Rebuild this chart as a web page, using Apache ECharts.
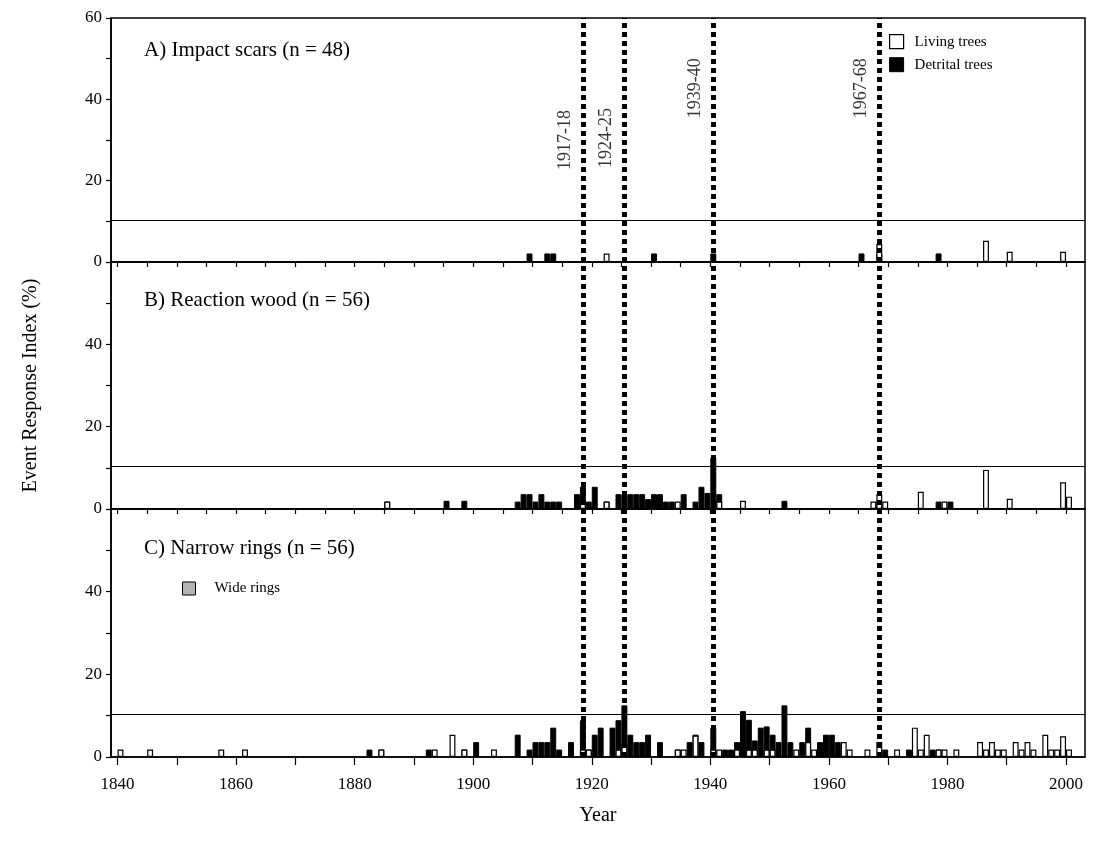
<!DOCTYPE html>
<html>
<head>
<meta charset="utf-8">
<title>Event Response Index</title>
<script src="https://cdn.jsdelivr.net/npm/echarts@6/dist/echarts.min.js"></script>
<style>
html, body { margin: 0; padding: 0; background: #fff; }
#main { width: 1093px; height: 851px; }
</style>
</head>
<body>
<div id="main"></div>
<script>
// A) Impact scars (n = 48)
var aYears    = [1909, 1912, 1913, 1922, 1930, 1940, 1965, 1968, 1978, 1986, 1990, 1999];
var aDetrital = [2.1, 2.1, 2.1, 0, 2.1, 2.1, 2.1, 2.1, 2.1, 0, 0, 0];
var aLiving   = [0, 0, 0, 2.1, 0, 0, 0, 4.4, 0, 5.2, 2.5, 2.5];

// B) Reaction wood (n = 56)
var bYears    = [1885, 1895, 1898, 1907, 1908, 1909, 1910, 1911, 1912, 1913, 1914, 1917, 1918, 1919, 1920, 1922,
                 1924, 1925, 1926, 1927, 1928, 1929, 1930, 1931, 1932, 1933, 1934, 1935, 1937, 1938, 1939, 1940,
                 1941, 1945, 1952, 1967, 1968, 1969, 1975, 1978, 1979, 1980, 1986, 1990, 1999, 2000];
var bDetrital = [1.8, 2, 2, 1.8, 3.6, 3.6, 1.8, 3.6, 1.8, 1.8, 1.8, 3.6, 5.4, 1.8, 5.4, 1.8,
                 3.6, 3.6, 3.6, 3.6, 3.6, 2.4, 3.6, 3.6, 1.8, 1.8, 0, 3.6, 1.8, 5.4, 3.9, 12.5,
                 3.6, 0, 2, 0, 1.8, 0, 0, 1.8, 0, 1.8, 0, 0, 0, 0];
var bLiving   = [1.8, 0, 0, 0, 0, 0, 0, 0, 0, 0, 0, 0, 1.8, 0, 0, 1.8,
                 0, 0, 0, 0, 0, 0, 0, 0, 0, 0, 1.8, 0, 0, 0, 0, 0,
                 1.8, 2, 0, 1.8, 3.6, 1.8, 4.2, 0, 1.8, 0, 9.5, 2.5, 6.5, 3];

// C) Narrow rings (n = 56)
var cYears    = [1840, 1845, 1857, 1861, 1882, 1884, 1892, 1893, 1896, 1898, 1900, 1903, 1907, 1909, 1910, 1911,
                 1912, 1913, 1914, 1916, 1918, 1919, 1920, 1921, 1923, 1924, 1925, 1926, 1927, 1928, 1929, 1931,
                 1934, 1935, 1936, 1937, 1938, 1940, 1941, 1942, 1943, 1944, 1945, 1946, 1947, 1948, 1949, 1950,
                 1951, 1952, 1953, 1954, 1955, 1956, 1957, 1958, 1959, 1960, 1961, 1962, 1963, 1966, 1968, 1969,
                 1971, 1973, 1974, 1975, 1976, 1977, 1978, 1979, 1981, 1985, 1986, 1987, 1988, 1989, 1991, 1992,
                 1993, 1994, 1996, 1997, 1998, 1999, 2000];
var cDetrital = [0, 0, 0, 0, 1.8, 1.8, 1.8, 0, 0, 1.8, 3.6, 0, 5.4, 1.8, 3.6, 3.6,
                 3.6, 7.1, 1.8, 3.6, 8.9, 1.8, 5.4, 7.1, 7.1, 8.9, 12.5, 5.4, 3.6, 3.6, 5.4, 3.6,
                 1.8, 0, 3.6, 5.4, 3.6, 7.1, 0, 1.8, 1.8, 3.6, 11.1, 9, 4, 7.1, 7.4, 5.4,
                 3.6, 12.5, 3.6, 0, 3.6, 7.1, 0, 3.6, 5.4, 5.4, 3.6, 0, 0, 0, 0, 1.8,
                 0, 1.8, 0, 0, 0, 1.8, 1.8, 0, 0, 0, 0, 0, 0, 0, 0, 0,
                 0, 0, 0, 0, 0, 0, 0];
var cWide     = [0, 0, 0, 0, 0, 0, 0, 0, 0, 0, 0, 0, 0, 0, 0, 0,
                 0, 0, 0, 0, 0, 0, 0, 0, 0, 0, 0, 0, 0, 0, 0, 0,
                 0, 0, 0, 0, 0, 1.8, 0, 0, 0, 0, 0, 0, 0, 0, 0, 0,
                 0, 0, 0, 0, 0, 0, 0, 0, 0, 0, 0, 0, 0, 0, 0, 0,
                 0, 0, 0, 0, 0, 0, 0, 0, 0, 0, 0, 0, 0, 0, 0, 0,
                 0, 0, 0, 0, 0, 0, 0];
var cLiving   = [1.8, 1.8, 1.8, 1.8, 0, 1.8, 0, 1.8, 5.4, 1.8, 0, 1.8, 0, 0, 0, 0,
                 0, 0, 0, 0, 1.8, 1.8, 0, 0, 0, 1.8, 3.2, 0, 0, 0, 0, 0,
                 1.8, 1.8, 0, 5.2, 0, 1.8, 1.8, 0, 0, 1.8, 0, 1.8, 1.8, 0, 1.8, 1.8,
                 0, 0, 0, 1.8, 0, 3.6, 1.8, 0, 0, 0, 0, 3.6, 1.8, 1.8, 3.6, 0,
                 1.8, 0, 7.1, 1.8, 5.4, 0, 1.8, 1.8, 1.8, 3.6, 1.8, 3.6, 1.8, 1.8, 3.6, 1.8,
                 3.6, 1.8, 5.4, 1.8, 1.8, 5, 1.8];

// threshold line of each panel
var thresholds = [10.2, 10.3, 10.3];

// dotted event lines
var eventNames = ['1917-18', '1924-25', '1939-40', '1967-68'];
var eventYears = [1918, 1925, 1940, 1968];

// axis labels
var xLabels = [1840, 1860, 1880, 1900, 1920, 1940, 1960, 1980, 2000];
var yLabels = [0, 20, 40];

var panelTitles = ['A) Impact scars (n = 48)', 'B) Reaction wood (n = 56)', 'C) Narrow rings (n = 56)'];

var serif = 'Liberation Serif';
var xMin = 1838.9, xMax = 2003.2;
var plotLeft = 111, plotRight = 8;
var barW = (1093 - plotLeft - plotRight) / (xMax - xMin);

var grids = [
	{ left: plotLeft, right: plotRight, top: 18, height: 244 },
	{ left: plotLeft, right: plotRight, top: 262, height: 247 },
	{ left: plotLeft, right: plotRight, top: 509, height: 248 },
	{ left: plotLeft, right: plotRight, top: 18, height: 739 }
];
for (var g = 0; g < 3; g++) {
	grids[g].show = true;
	grids[g].borderColor = '#000';
	grids[g].borderWidth = 1.5;
}

// bar for year Y covers Y..Y+1
function pairs(years, vals) {
	var d = [];
	for (var i = 0; i < years.length; i++) {
		d.push([years[i] + 0.5, vals[i] ? vals[i] : '-']);
	}
	return d;
}

var ticks5 = [], ticks10 = [];
for (var y = 1840; y <= 2000; y += 5) {
	ticks5.push(y);
	if (y % 10 == 0) ticks10.push(y);
}

function xAxisFor(idx, tickVals, showLabels) {
	return {
		type: 'value', gridIndex: idx, min: xMin, max: xMax,
		splitLine: { show: false },
		axisLine: { show: true, onZero: false, lineStyle: { color: '#000', width: 1.5 } },
		axisTick: { show: true, length: showLabels ? 8 : 5, customValues: tickVals, lineStyle: { color: '#000', width: 1.2 } },
		axisLabel: {
			show: showLabels, customValues: xLabels, margin: 19,
			fontFamily: serif, fontSize: 17, color: '#000',
			formatter: function (v) { return String(v); }
		},
		name: showLabels ? 'Year' : '', nameLocation: 'middle', nameGap: 49,
		nameTextStyle: { fontFamily: serif, fontSize: 20, color: '#000' }
	};
}

function yAxisFor(idx, labels, name) {
	return {
		type: 'value', gridIndex: idx, min: 0, max: 60, interval: 10,
		splitLine: { show: false },
		axisLine: { show: true, lineStyle: { color: '#000', width: 1.5 } },
		axisTick: { show: true, length: 5, lineStyle: { color: '#000', width: 1.2 } },
		axisLabel: {
			margin: 9, fontFamily: serif, fontSize: 17, color: '#000',
			formatter: function (v) { return labels.indexOf(v) >= 0 ? String(v) : ''; }
		},
		name: name, nameLocation: 'middle', nameGap: 70,
		nameTextStyle: { fontFamily: serif, fontSize: 20, color: '#000' }
	};
}

var livingStyle = { color: '#fff', borderColor: '#000', borderWidth: 1.2 };
var detritalStyle = { color: '#000', borderColor: '#000', borderWidth: 1 };
var wideStyle = { color: '#b4b4b4', borderColor: '#000', borderWidth: 1 };

function barSeries(name, idx, data, style) {
	return {
		name: name, type: 'bar', xAxisIndex: idx, yAxisIndex: idx,
		stack: 'p' + idx, barWidth: barW, data: data,
		itemStyle: style, emphasis: { disabled: true }, animation: false
	};
}

function threshold(idx) {
	return {
		silent: true, symbol: 'none', label: { show: false },
		lineStyle: { color: '#000', width: 1, type: 'solid' },
		data: [{ yAxis: thresholds[idx] }]
	};
}

var series = [];
var sA = barSeries('Detrital trees', 0, pairs(aYears, aDetrital), detritalStyle);
sA.markLine = threshold(0);
series.push(sA, barSeries('Living trees', 0, pairs(aYears, aLiving), livingStyle));

var sB = barSeries('Detrital trees', 1, pairs(bYears, bDetrital), detritalStyle);
sB.markLine = threshold(1);
series.push(sB, barSeries('Living trees', 1, pairs(bYears, bLiving), livingStyle));

var sC = barSeries('Detrital trees', 2, pairs(cYears, cDetrital), detritalStyle);
sC.markLine = threshold(2);
series.push(sC,
	barSeries('Wide rings', 2, pairs(cYears, cWide), wideStyle),
	barSeries('Living trees', 2, pairs(cYears, cLiving), livingStyle));

// dotted event lines across all three panels
series.push({
	type: 'line', xAxisIndex: 3, yAxisIndex: 3, data: [], silent: true,
	markLine: {
		silent: true, symbol: 'none', label: { show: false }, animation: false,
		lineStyle: { color: '#000', width: 5, type: [5, 4] },
		data: eventYears.map(function (y) { return { xAxis: y + 0.5 }; })
	}
});

// event labels, rotated, left of each line
var labelLift = [30, 30.5, 42.7, 42.7];
series.push({
	type: 'scatter', xAxisIndex: 0, yAxisIndex: 0, symbolSize: 1, silent: true,
	itemStyle: { color: 'rgba(0,0,0,0)' },
	data: eventYears.map(function (y, i) { return [y + 0.5 - 3, labelLift[i]]; }),
	label: {
		show: true, position: 'inside', rotate: 90,
		fontFamily: serif, fontSize: 18, color: '#000',
		formatter: function (p) { return eventNames[p.dataIndex]; }
	}
});

var titleTops = [35, 285, 533];
var titles = panelTitles.map(function (t, i) {
	return {
		text: t, left: 139, top: titleTops[i],
		textStyle: { fontFamily: serif, fontSize: 21, fontWeight: 'normal', color: '#000' }
	};
});

var option = {
	backgroundColor: '#fff',
	animation: false,
	title: titles,
	grid: grids,
	xAxis: [
		xAxisFor(0, ticks5, false),
		xAxisFor(1, ticks5, false),
		xAxisFor(2, ticks10, true),
		{ type: 'value', gridIndex: 3, min: xMin, max: xMax, show: false }
	],
	yAxis: [
		yAxisFor(0, [0, 20, 40, 60], ''),
		yAxisFor(1, yLabels, 'Event Response Index (%)'),
		yAxisFor(2, yLabels, ''),
		{ type: 'value', gridIndex: 3, min: 0, max: 1, show: false }
	],
	legend: [
		{
			left: 884, top: 29, orient: 'vertical', itemWidth: 14, itemHeight: 14, itemGap: 8,
			selectedMode: false,
			textStyle: { fontFamily: serif, fontSize: 15, color: '#000', padding: [0, 0, 0, 6] },
			data: [
				{ name: 'Living trees', icon: 'rect', itemStyle: livingStyle },
				{ name: 'Detrital trees', icon: 'rect', itemStyle: detritalStyle }
			]
		},
		{
			left: 177, top: 576, orient: 'vertical', itemWidth: 13, itemHeight: 13,
			selectedMode: false,
			textStyle: { fontFamily: serif, fontSize: 15, color: '#000', padding: [0, 0, 0, 14] },
			data: [{ name: 'Wide rings', icon: 'rect', itemStyle: wideStyle }]
		}
	],
	series: series
};

var chart = echarts.init(document.getElementById('main'));
chart.setOption(option);
</script>
</body>
</html>
